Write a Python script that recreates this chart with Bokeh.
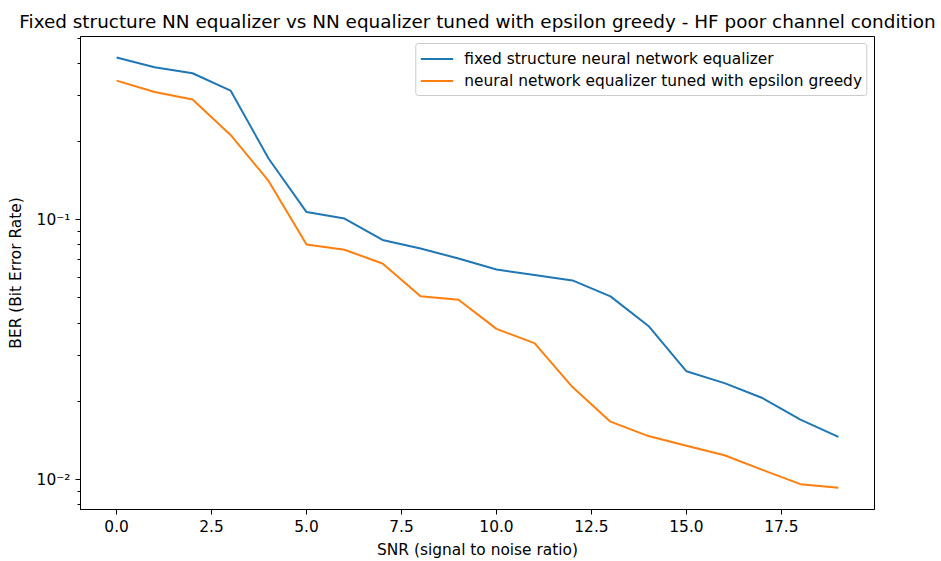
from bokeh.plotting import figure
from bokeh.models import Range1d, FixedTicker, CustomJSTickFormatter, PrintfTickFormatter, Legend, LegendItem
from bokeh.embed import file_html
from bokeh.resources import INLINE

snr = list(range(20))
ber_fixed = [0.421, 0.386, 0.366, 0.314, 0.172, 0.107, 0.101, 0.0836, 0.0775, 0.0709,
             0.0643, 0.0613, 0.0584, 0.0507, 0.0390, 0.0261, 0.0235, 0.0206, 0.0170, 0.0146]
ber_tuned = [0.343, 0.310, 0.290, 0.212, 0.141, 0.0803, 0.0766, 0.0678, 0.0508, 0.0492,
             0.0380, 0.0335, 0.0227, 0.0167, 0.0147, 0.0135, 0.0124, 0.0109, 0.00960, 0.00930]
label_fixed = "fixed structure neural network equalizer"
label_tuned = "neural network equalizer tuned with epsilon greedy"
title_text = "Fixed structure NN equalizer vs NN equalizer tuned with epsilon greedy - HF poor channel condition"
x_ticks = [0.0, 2.5, 5.0, 7.5, 10.0, 12.5, 15.0, 17.5]
y_major = [0.01, 0.1]
y_minor = [0.008, 0.009, 0.02, 0.03, 0.04, 0.05, 0.06, 0.07, 0.08, 0.09, 0.2, 0.3, 0.4, 0.5]

FONT = "DejaVu Sans"
FS = "15.4px"

p = figure(width=941, height=561, y_axis_type="log", output_backend="svg", toolbar_location=None,
           x_range=Range1d(-0.95, 19.95), y_range=Range1d(0.00767, 0.507),
           min_border_left=80, min_border_right=67, min_border_top=36, min_border_bottom=50)

p.title.text = title_text
p.title.align = "center"
p.title.text_font = FONT
p.title.text_font_size = "18.4px"
p.title.text_font_style = "normal"
p.title.text_color = "black"

p.xgrid.visible = False
p.ygrid.visible = False
p.outline_line_color = "black"
p.outline_line_width = 1
p.outline_line_alpha = 1

r1 = p.line(snr, ber_fixed, line_color="#1f77b4", line_width=2)
r2 = p.line(snr, ber_tuned, line_color="#ff7f0e", line_width=2)

legend = Legend(items=[LegendItem(label=label_fixed, renderers=[r1]),
                       LegendItem(label=label_tuned, renderers=[r2])],
                location="top_right")
legend.label_text_font = FONT
legend.label_text_font_size = FS
legend.label_text_color = "black"
legend.border_line_color = "#cccccc"
legend.border_line_alpha = 1
legend.border_radius = 3
legend.background_fill_alpha = 0.8
legend.glyph_width = 33
legend.glyph_height = 21
legend.label_standoff = 11
legend.spacing = 1
legend.padding = 4
legend.margin = 7
legend.label_height = 21
p.add_layout(legend)

p.xaxis.ticker = FixedTicker(ticks=x_ticks)
p.xaxis.formatter = PrintfTickFormatter(format="%.1f")
p.yaxis.ticker = FixedTicker(ticks=y_major, minor_ticks=y_minor)
p.yaxis.formatter = CustomJSTickFormatter(code="return tick < 0.05 ? '10\u207b\u00b2' : '10\u207b\u00b9';")

for ax in (p.xaxis, p.yaxis):
    ax.axis_line_color = "black"
    ax.major_tick_line_color = "black"
    ax.minor_tick_line_color = "black"
    ax.major_tick_out = 5
    ax.major_tick_in = 0
    ax.minor_tick_out = 3
    ax.minor_tick_in = 0
    ax.major_label_text_font = FONT
    ax.major_label_text_font_size = FS
    ax.major_label_text_color = "black"
    ax.axis_label_text_font = FONT
    ax.axis_label_text_font_size = FS
    ax.axis_label_text_font_style = "normal"
    ax.axis_label_text_color = "black"
p.xaxis.minor_tick_line_color = None
p.xaxis.axis_label = "SNR (signal to noise ratio)"
p.yaxis.axis_label = "BER (Bit Error Rate)"
p.xaxis.major_label_standoff = 5
p.yaxis.major_label_standoff = 5
p.xaxis.axis_label_standoff = 6
p.yaxis.axis_label_standoff = 9

open("out.html", "w").write(file_html(p, INLINE))
